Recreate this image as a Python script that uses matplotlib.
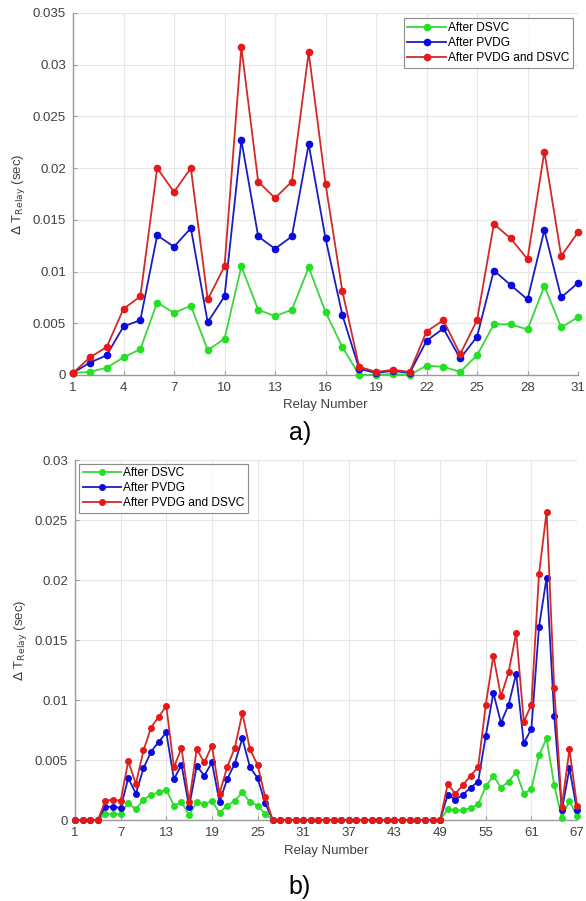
import matplotlib
matplotlib.use("Agg")
import matplotlib.pyplot as plt
from matplotlib.ticker import FormatStrFormatter

plt.rcParams['font.family'] = ['Liberation Sans', 'DejaVu Sans']

# ---- panel a) : 31 relays ----
relays_a = list(range(1, 32))
dsvc_a = [0.0002, 0.0003, 0.0007, 0.0017, 0.0025, 0.0070, 0.0060, 0.0067, 0.0024, 0.0035,
          0.0105, 0.0063, 0.0057, 0.0063, 0.0104, 0.0061, 0.0027, 0.0000, 0.0000, 0.0001,
          0.0000, 0.0009, 0.0008, 0.0003, 0.0019, 0.0049, 0.0049, 0.0044, 0.0086, 0.0046, 0.0056]
pvdg_a = [0.0002, 0.0012, 0.0019, 0.0047, 0.0053, 0.0135, 0.0124, 0.0142, 0.0051, 0.0076,
          0.0227, 0.0134, 0.0122, 0.0134, 0.0223, 0.0132, 0.0058, 0.0006, 0.0002, 0.0004,
          0.0002, 0.0033, 0.0045, 0.0016, 0.0037, 0.0101, 0.0087, 0.0073, 0.0140, 0.0075, 0.0089]
both_a = [0.0002, 0.0017, 0.0027, 0.0064, 0.0076, 0.0200, 0.0177, 0.0200, 0.0073, 0.0105,
          0.0317, 0.0187, 0.0171, 0.0187, 0.0312, 0.0185, 0.0081, 0.0008, 0.0003, 0.0005,
          0.0003, 0.0042, 0.0053, 0.0020, 0.0053, 0.0146, 0.0132, 0.0112, 0.0216, 0.0115, 0.0138]

# ---- panel b) : 67 relays ----
relays_b = list(range(1, 68))
dsvc_b = [0, 0, 0, 0, 0.0005, 0.0005, 0.0005, 0.0014, 0.0009, 0.0017,
          0.0021, 0.0023, 0.0025, 0.0012, 0.0015, 0.0004, 0.0015, 0.0013, 0.0016, 0.0006,
          0.0012, 0.0016, 0.0023, 0.0015, 0.0012, 0.0005] + [0] * 23 + \
         [0.0009, 0.0008, 0.0008, 0.0010, 0.0013, 0.0028, 0.0037, 0.0027, 0.0032, 0.0040,
          0.0022, 0.0026, 0.0054, 0.0068, 0.0029, 0.0002, 0.0016, 0.0003]
pvdg_b = [0, 0, 0, 0, 0.0011, 0.0011, 0.0010, 0.0035, 0.0022, 0.0043,
          0.0057, 0.0065, 0.0073, 0.0034, 0.0046, 0.0011, 0.0045, 0.0037, 0.0048, 0.0015,
          0.0034, 0.0047, 0.0068, 0.0044, 0.0035, 0.0014] + [0] * 23 + \
         [0.0021, 0.0017, 0.0021, 0.0027, 0.0032, 0.0070, 0.0106, 0.0081, 0.0096, 0.0122,
          0.0064, 0.0076, 0.0161, 0.0202, 0.0087, 0.0008, 0.0043, 0.0008]
both_b = [0, 0, 0, 0, 0.0016, 0.0017, 0.0016, 0.0049, 0.0030, 0.0058,
          0.0077, 0.0086, 0.0095, 0.0044, 0.0060, 0.0015, 0.0059, 0.0048, 0.0062, 0.0022,
          0.0044, 0.0060, 0.0089, 0.0059, 0.0046, 0.0019] + [0] * 23 + \
         [0.0030, 0.0022, 0.0029, 0.0037, 0.0044, 0.0096, 0.0137, 0.0103, 0.0123, 0.0156,
          0.0082, 0.0096, 0.0205, 0.0257, 0.0110, 0.0011, 0.0059, 0.0012]

labels = ['After DSVC', 'After PVDG', 'After PVDG and DSVC']
line_colors = ['#3ad63a', '#1c1cc0', '#d02a2a']
marker_colors = ['#22e022', '#0a0ae0', '#e81818']


def draw_panel(ax, x, series, xticks, ylim, yticks, ms, legend_loc, legend_anchor):
  for y, lc, mc, lab in zip(series, line_colors, marker_colors, labels):
    ax.plot(x, y, color=lc, linewidth=1.3, marker='o', markersize=ms,
            markerfacecolor=mc, markeredgecolor=mc, label=lab, clip_on=False, zorder=3)
  ax.set_xlim(x[0], x[-1])
  ax.set_ylim(*ylim)
  ax.set_xticks(xticks)
  ax.set_yticks(yticks)
  ax.yaxis.set_major_formatter(FormatStrFormatter('%g'))
  ax.grid(True, color='#e6e6e6', linewidth=0.8)
  ax.set_axisbelow(True)
  for side in ['top', 'right']:
    ax.spines[side].set_visible(False)
  for side in ['left', 'bottom']:
    ax.spines[side].set_color('#9a9a9a')
    ax.spines[side].set_linewidth(1.0)
  ax.tick_params(direction='in', length=3, color='#9a9a9a', labelsize=9.5,
                 labelcolor='#404040', pad=5)
  ax.set_xlabel('Relay Number', fontsize=9.5, color='#404040', labelpad=4)
  ax.set_ylabel(r'$\Delta$ T$_{\mathrm{Relay}}$ (sec)', fontsize=9.5, color='#404040')
  leg = ax.legend(loc=legend_loc, bbox_to_anchor=legend_anchor, fontsize=8.6, frameon=True,
                  fancybox=False, edgecolor='#707070', handlelength=3.2, handletextpad=0.2,
                  borderpad=0.3, labelspacing=0.25, borderaxespad=0)
  leg.get_frame().set_linewidth(0.8)
  leg.set_zorder(5)


fig = plt.figure(figsize=(5.86, 9.01), dpi=100)
ax1 = fig.add_axes([0.1246, 0.5838, 0.8618, 0.4018])
draw_panel(ax1, relays_a, [dsvc_a, pvdg_a, both_a], list(range(1, 32, 3)),
           (0, 0.035), [i * 0.005 for i in range(8)], 4.5, 'upper right', (0.99, 0.985))
fig.text(0.512, 0.519, 'a)', fontsize=18, ha='center', va='center')

ax2 = fig.add_axes([0.128, 0.0899, 0.8567, 0.3995])
draw_panel(ax2, relays_b, [dsvc_b, pvdg_b, both_b], list(range(1, 68, 6)),
           (0, 0.03), [i * 0.005 for i in range(7)], 4.0, 'upper left', (0.008, 0.99))
fig.text(0.512, 0.016, 'b)', fontsize=18, ha='center', va='center')

fig.savefig('out.png', dpi=100)
